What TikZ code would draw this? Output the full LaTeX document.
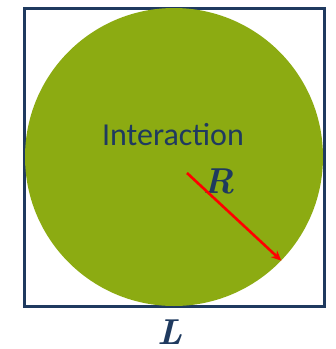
\documentclass[tikz,border=0pt]{standalone}
\usepackage{fontspec}
\usepackage{amsmath}
\setmainfont{Carlito}
\newfontfamily\mathserif{Latin Modern Roman}
\usetikzlibrary{arrows.meta, positioning}
\definecolor{boxblue}{HTML}{1F3A5F}
\definecolor{diskgreen}{HTML}{8CAB12}
\definecolor{arrowred}{HTML}{FF0000}

\begin{document}
\begin{tikzpicture}[
    x=1pt, y=-1pt,
    domainbox/.style={rectangle, draw=boxblue, line width=3pt, minimum width=300pt, minimum height=298pt, inner sep=0pt},
    disk/.style={circle, fill=diskgreen, minimum size=298pt, inner sep=0pt},
    titletext/.style={text=boxblue, font=\fontsize{32}{36}\selectfont},
    symtext/.style={text=boxblue, font=\mathserif\fontsize{36}{40}\selectfont\bfseries\itshape, inner sep=0pt},
    arrow/.style={-{Stealth[length=10pt, width=9pt]}, line width=2.6pt, arrowred}
]
\useasboundingbox (0,0) rectangle (336,349);

% Nodes
\node[domainbox] (box) at (174,157) {};
\node[disk] (interaction) at (174,157) {};
\node[titletext] (title) at (173,135) {Interaction};
\node[symtext] (radius) at (219,181) {R};
\node[symtext] (side) at (170,332) {L};

% Arrow
\coordinate (rstart) at (187,173);
\draw[arrow] (rstart) -- (interaction.-44);

\end{tikzpicture}
\end{document}
